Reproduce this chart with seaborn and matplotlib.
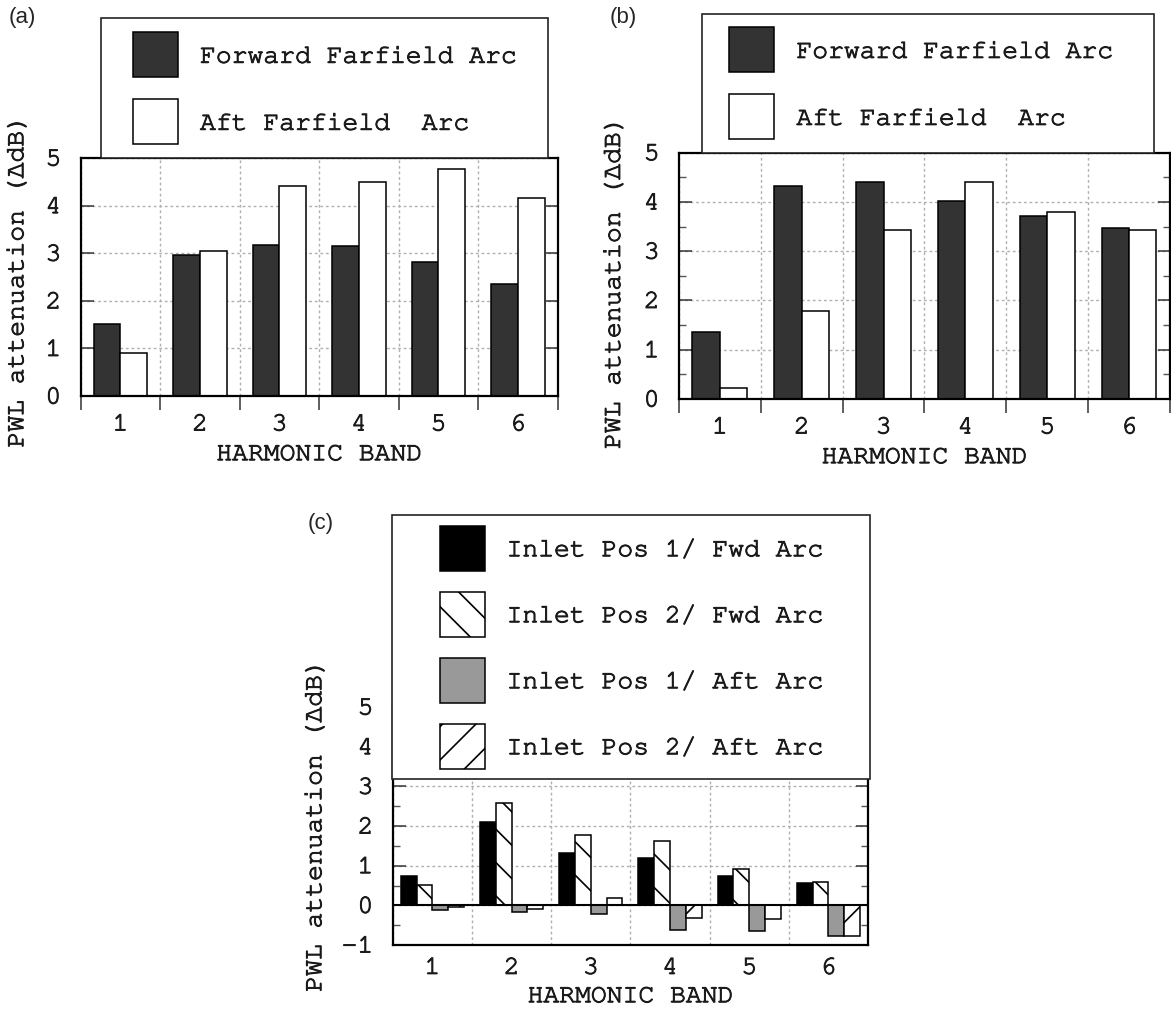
import matplotlib
matplotlib.use("Agg")
import matplotlib.pyplot as plt
import matplotlib.patheffects as pe
import seaborn as sns
import pandas as pd
import numpy as np
from matplotlib import font_manager
from matplotlib.patches import Patch, Rectangle
from matplotlib.legend_handler import HandlerPatch
from matplotlib.ticker import MultipleLocator, NullFormatter
from matplotlib.text import Text

# ---------------- data ----------------
bands = ["1", "2", "3", "4", "5", "6"]

a_labels = ["Forward Farfield Arc", "Aft Farfield  Arc"]
a_forward = [1.51, 2.97, 3.18, 3.15, 2.82, 2.35]
a_aft = [0.91, 3.05, 4.42, 4.50, 4.76, 4.17]

b_labels = ["Forward Farfield Arc", "Aft Farfield  Arc"]
b_forward = [1.36, 4.32, 4.40, 4.01, 3.71, 3.48]
b_aft = [0.22, 1.78, 3.44, 4.40, 3.80, 3.43]

c_labels = ["Inlet Pos 1/ Fwd Arc", "Inlet Pos 2/ Fwd Arc",
            "Inlet Pos 1/ Aft Arc", "Inlet Pos 2/ Aft Arc"]
c_pos1_fwd = [0.75, 2.09, 1.32, 1.19, 0.74, 0.56]
c_pos2_fwd = [0.52, 2.59, 1.78, 1.61, 0.92, 0.60]
c_pos1_aft = [-0.13, -0.17, -0.21, -0.61, -0.65, -0.78]
c_pos2_aft = [-0.04, -0.10, 0.18, -0.33, -0.34, -0.78]

y_ticks_ab = [0, 1, 2, 3, 4, 5]
y_ticks_c = [-1, 0, 1, 2, 3, 4, 5]

x_title = "HARMONIC BAND"
y_title = "PWL attenuation (\u0394dB)"

# ---------------- style ----------------
sns.set_style("ticks")
_installed = {f.name for f in font_manager.fontManager.ttflist}
_mono = [f for f in ["Courier New", "Nimbus Mono PS", "FreeMono", "Courier",
                     "Liberation Mono", "DejaVu Sans Mono"] if f in _installed]
if not _mono:
    _mono = ["DejaVu Sans Mono"]
plt.rcParams['font.family'] = _mono
plt.rcParams['hatch.linewidth'] = 1.2
plt.rcParams['hatch.color'] = 'black'

FS = 19
EDGE_LW = 1.1
EM_PX = FS * 100 / 72.0


def long_df(series_labels, series_values):
    rows = []
    for lab, vals in zip(series_labels, series_values):
        for b, v in zip(bands, vals):
            rows.append({"band": b, "series": lab, "value": v})
    return pd.DataFrame(rows)


class OffsetPatchHandler(HandlerPatch):
    """Square legend key of fixed size placed at the right of the handle box."""
    def __init__(self, size_pt, **kw):
        super().__init__(**kw)
        self.size_pt = size_pt

    def create_artists(self, legend, orig_handle, xdescent, ydescent,
                       width, height, fontsize, trans):
        s = self.size_pt
        p = Rectangle((width - xdescent - s, -ydescent + (height - s) / 2), s, s)
        self.update_prop(p, orig_handle, legend)
        p.set_transform(trans)
        return [p]


def style_axes(ax, yticks, ylim, minor_y, xticks_out, ylab_xy, xpad, xlabpad):
    ax.set_xlim(-0.5, len(bands) - 0.5)
    ax.set_ylim(*ylim)
    ax.set_yticks(yticks)
    ax.set_xticks(np.arange(len(bands) + 1) - 0.5)
    ax.xaxis.set_major_formatter(NullFormatter())
    ax.set_xticks(np.arange(len(bands)), labels=bands, minor=True)
    ax.tick_params(axis='x', which='minor', length=0, pad=xpad, labelsize=FS)
    if xticks_out:
        ax.tick_params(axis='x', which='major', direction='out', length=10,
                       width=1.1, color='#333333')
    else:
        ax.tick_params(axis='x', which='major', length=0)
    ax.tick_params(axis='y', which='major', direction='in', left=True, right=True,
                   length=9, width=1.1, pad=14, labelsize=FS, color='#333333')
    if minor_y:
        ax.yaxis.set_minor_locator(MultipleLocator(0.5))
        ax.tick_params(axis='y', which='minor', direction='in', left=True, right=True,
                       length=5, width=1.0, color='#555555')
    ax.set_axisbelow(True)
    ax.grid(True, which='major', axis='both', color='#b0b0b0',
            linestyle=(0, (2, 2)), linewidth=1.0)
    for sp in ax.spines.values():
        sp.set_visible(True)
        sp.set_linewidth(1.6)
        sp.set_color('black')
    ax.set_xlabel(x_title, fontsize=FS, labelpad=xlabpad)
    ax.set_ylabel(y_title, fontsize=FS)
    ax.yaxis.set_label_coords(*ylab_xy)


def add_legend(ax, labels, colors, hatches, anchor, handle_px, pad_px, spacing_px):
    em = EM_PX
    key_px = 45.0
    # effective handle box height = fs*(0.65*hh + 0.245)
    hh = (key_px / em - 0.245) / 0.65
    handles = [Patch(facecolor=c, edgecolor='black', linewidth=EDGE_LW, hatch=h)
               for c, h in zip(colors, hatches)]
    leg = ax.legend(handles=handles, labels=labels, loc='lower left',
                    bbox_to_anchor=anchor, mode='expand', borderaxespad=0,
                    fontsize=FS, frameon=True, fancybox=False, shadow=False,
                    framealpha=1, facecolor='white', edgecolor='#222222',
                    handlelength=handle_px / em, handleheight=hh,
                    handletextpad=22 / em, borderpad=pad_px / em,
                    labelspacing=spacing_px / em,
                    handler_map={Patch: OffsetPatchHandler(key_px * 72 / 100.0)})
    leg.get_frame().set_linewidth(1.2)
    leg.set_zorder(10)
    return leg


fig = plt.figure(figsize=(11.71, 10.17), dpi=100)

# ---------------- panel (a) ----------------
ax_a = fig.add_axes([0.0689, 0.6106, 0.4073, 0.2340])
colors_ab = ["#333333", "#ffffff"]
df_a = long_df(a_labels, [a_forward, a_aft])
sns.barplot(data=df_a, x="band", y="value", hue="series", order=bands,
            hue_order=a_labels, palette=dict(zip(a_labels, colors_ab)),
            width=0.67, saturation=1, edgecolor="black", linewidth=EDGE_LW,
            errorbar=None, legend=False, ax=ax_a)
style_axes(ax_a, y_ticks_ab, (0, 5), False, True, (-0.110, 0.48), 14, 7)
add_legend(ax_a, a_labels, colors_ab, [None, None],
           (0.0426, 1.0, 0.937, 0.5), handle_px=63, pad_px=14, spacing_px=22)

# ---------------- panel (b) ----------------
ax_b = fig.add_axes([0.5798, 0.6077, 0.4193, 0.2422])
df_b = long_df(b_labels, [b_forward, b_aft])
sns.barplot(data=df_b, x="band", y="value", hue="series", order=bands,
            hue_order=b_labels, palette=dict(zip(b_labels, colors_ab)),
            width=0.67, saturation=1, edgecolor="black", linewidth=EDGE_LW,
            errorbar=None, legend=False, ax=ax_b)
style_axes(ax_b, y_ticks_ab, (0, 5), True, True, (-0.110, 0.47), 14, 7)
add_legend(ax_b, b_labels, colors_ab, [None, None],
           (0.0468, 1.0, 0.9206, 0.5), handle_px=59, pad_px=13.5, spacing_px=22)

# ---------------- panel (c) ----------------
ax_c = fig.add_axes([0.3354, 0.0708, 0.4059, 0.2340])
colors_c = ["#000000", "#ffffff", "#999999", "#ffffff"]
hatches_c = [None, "\\", None, "/"]
df_c = long_df(c_labels, [c_pos1_fwd, c_pos2_fwd, c_pos1_aft, c_pos2_aft])
sns.barplot(data=df_c, x="band", y="value", hue="series", order=bands,
            hue_order=c_labels, palette=dict(zip(c_labels, colors_c)),
            width=0.8, saturation=1, edgecolor="black", linewidth=EDGE_LW,
            errorbar=None, legend=False, ax=ax_c)
for cont, h in zip(ax_c.containers, hatches_c):
    if h:
        for bar in cont:
            bar.set_hatch(h)
ax_c.axhline(0, color='black', linewidth=1.5, zorder=3)
style_axes(ax_c, y_ticks_c, (-1, 5), True, False, (-0.140, 0.5), 10, 6)
add_legend(ax_c, c_labels, colors_c, hatches_c,
           (-0.0015, 0.6975, 1.006, 0.5), handle_px=82, pad_px=10.5, spacing_px=21)

# slightly heavier strokes for the thin monospace text
for t in fig.findobj(Text):
    t.set_color('#1a1a1a')
    t.set_path_effects([pe.withStroke(linewidth=0.7, foreground='#1a1a1a')])

# ---------------- panel letters ----------------
for txt, x, y in [("(a)", 22, 18), ("(b)", 623, 18), ("(c)", 321, 523)]:
    fig.text(x / 1171, 1 - y / 1017, txt, ha='center', va='center',
             fontsize=16, family=['Liberation Sans', 'DejaVu Sans'])

fig.savefig("out.png", dpi=100)
